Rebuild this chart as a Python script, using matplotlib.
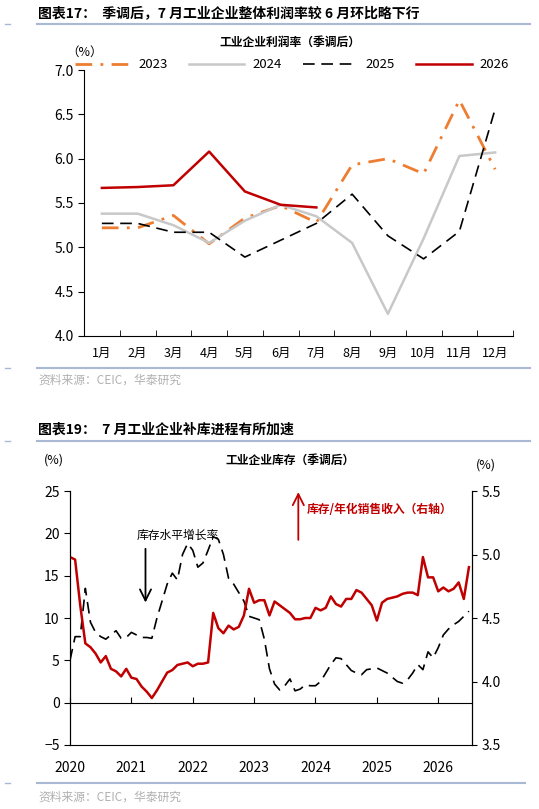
import numpy as np
import matplotlib
matplotlib.use('Agg')
import matplotlib.pyplot as plt

plt.rcParams['font.family'] = ['Noto Sans CJK SC', 'DejaVu Sans']

# ---- 图表17 数据 ----
months = ['1月', '2月', '3月', '4月', '5月', '6月', '7月', '8月', '9月', '10月', '11月', '12月']
p2023 = [5.22, 5.22, 5.36, 5.04, 5.33, 5.47, 5.28, 5.93, 6.00, 5.83, 6.66, 5.88]
p2024 = [5.38, 5.38, 5.25, 5.05, 5.30, 5.48, 5.35, 5.05, 4.25, 5.10, 6.03, 6.07]
p2025 = [5.27, 5.27, 5.17, 5.17, 4.89, 5.08, 5.27, 5.60, 5.13, 4.87, 5.18, 6.56]
p2026 = [5.67, 5.68, 5.70, 6.08, 5.63, 5.48, 5.45]

# ---- 图表19 数据 (2020-01 .. 2026-07, 月度) ----
inv_growth = [
    5.0, 7.8, 7.8, 13.5, 9.5, 8.3, 7.8, 7.5, 8.0, 8.5, 7.6, 7.7,
    8.3, 8.0, 7.7, 7.7, 7.6, 10.0, 12.0, 14.0, 15.3, 14.5, 17.5, 18.8,
    18.0, 16.0, 16.5, 18.0, 19.6, 19.3, 17.5, 14.7, 14.0, 13.0, 12.0, 10.2,
    10.0, 9.8, 7.5, 4.0, 2.2, 1.5, 2.0, 2.8, 1.4, 1.6, 2.1, 2.0,
    2.0, 2.5, 3.5, 4.5, 5.3, 5.2, 4.5, 3.8, 3.5, 3.3, 3.9, 4.0,
    4.1, 3.8, 3.5, 3.0, 2.5, 2.3, 2.7, 3.5, 4.5, 3.9, 6.0, 5.3,
    6.5, 8.0, 8.7, 9.2, 9.6, 10.2, 10.8,
]
inv_ratio = [
    4.98, 4.96, 4.60, 4.30, 4.27, 4.22, 4.15, 4.20, 4.10, 4.08, 4.04, 4.10,
    4.03, 4.02, 3.96, 3.92, 3.87, 3.93, 4.00, 4.07, 4.09, 4.13, 4.14, 4.15,
    4.12, 4.14, 4.14, 4.15, 4.54, 4.42, 4.38, 4.44, 4.41, 4.43, 4.52, 4.73,
    4.62, 4.64, 4.64, 4.52, 4.63, 4.60, 4.57, 4.54, 4.49, 4.49, 4.50, 4.50,
    4.58, 4.56, 4.58, 4.67, 4.61, 4.59, 4.65, 4.65, 4.72, 4.70, 4.65, 4.60,
    4.48, 4.62, 4.65, 4.66, 4.67, 4.69, 4.70, 4.70, 4.68, 4.98, 4.82, 4.82,
    4.71, 4.74, 4.71, 4.73, 4.78, 4.65, 4.90,
]
years = ['2020', '2021', '2022', '2023', '2024', '2025', '2026']

W, H = 539, 809
fig = plt.figure(figsize=(W / 100, H / 100), dpi=100)
sep = '#a9b9d3'

def fx(px):
    return px / W

def fy(py):
    return 1 - py / H

def hline(py, x0=37, x1=530):
    fig.add_artist(plt.Line2D([fx(x0), fx(x1)], [fy(py), fy(py)], color=sep, lw=1.5))
    fig.add_artist(plt.Line2D([fx(5), fx(10)], [fy(py), fy(py)], color=sep, lw=1))

# ---------- 上图 ----------
fig.text(fx(38), fy(13), '图表17：  季调后，7 月工业企业整体利润率较 6 月环比略下行',
         fontsize=10, fontweight='bold', va='center')
hline(24)
ax1 = fig.add_axes([fx(84), fy(336), fx(513 - 84), fy(70) - fy(336)])
x = np.arange(12)
ax1.plot(x, p2023, color='#ed7d31', lw=2, ls=(0, (6, 3, 1, 3)), label='2023')
ax1.plot(x, p2024, color='#c8c8c8', lw=1.8, label='2024')
ax1.plot(x, p2025, color='black', lw=1.2, ls=(0, (7, 4)), label='2025')
ax1.plot(np.arange(len(p2026)), p2026, color='#c00000', lw=1.8, label='2026')
ax1.set_xlim(-0.5, 11.5)
ax1.set_ylim(4.0, 7.0)
ax1.set_yticks(np.arange(4.0, 7.01, 0.5))
ax1.set_yticklabels([f'{v:.1f}' for v in np.arange(4.0, 7.01, 0.5)], fontsize=10)
ax1.set_xticks(x)
ax1.set_xticklabels(months, fontsize=9)
ax1.set_xticks(np.arange(-0.5, 12, 1), minor=True)
ax1.tick_params(axis='x', which='major', length=0, pad=8)
ax1.tick_params(axis='x', which='minor', length=4, direction='in')
ax1.tick_params(axis='y', length=4, direction='out')
for s in ['top', 'right']:
    ax1.spines[s].set_visible(False)
fig.legend(*ax1.get_legend_handles_labels(), loc='center', bbox_to_anchor=(fx(292), fy(65)),
           ncol=4, frameon=False, fontsize=9.5, handlelength=4.2, columnspacing=1.6,
           handletextpad=0.6, borderpad=0)
fig.text(fx(290), fy(42), '工业企业利润率（季调后）', fontsize=8.5, fontweight='bold', ha='center', va='center')
fig.text(fx(85), fy(52), '（%）', fontsize=9, ha='center', va='center')
hline(368)
fig.text(fx(38), fy(380), '资料来源：CEIC，华泰研究', fontsize=8.5, color='#b0b0b0', va='center')

# ---------- 下图 ----------
fig.text(fx(38), fy(430), '图表19：  7 月工业企业补库进程有所加速',
         fontsize=10, fontweight='bold', va='center')
hline(441)
ax2 = fig.add_axes([fx(70), fy(745), fx(472 - 70), fy(491) - fy(745)])
t = np.arange(len(inv_growth)) / 12.0
ax2.plot(t, inv_growth, color='black', lw=1.2, ls=(0, (7, 4)))
ax2.set_xlim(0, (len(inv_growth) - 1) / 12.0 + 0.05)
ax2.set_ylim(-5, 25)
ax2.set_yticks(np.arange(-5, 26, 5))
ax2.tick_params(axis='y', labelsize=10, length=4)
ax2.set_xticks(np.arange(len(years)))
ax2.set_xticklabels(years, fontsize=10)
ax2.spines['top'].set_visible(False)
ax2.spines['bottom'].set_position(('data', 0))
ax2.tick_params(axis='x', length=4, direction='in', pad=42)
ax3 = ax2.twinx()
ax3.plot(t, inv_ratio, color='#c00000', lw=1.8)
ax3.set_ylim(3.5, 5.5)
ax3.set_yticks([3.5, 4.0, 4.5, 5.0, 5.5])
ax3.set_yticklabels(['3.5', '4.0', '4.5', '5.0', '5.5'], fontsize=10)
ax3.spines['top'].set_visible(False)
fig.text(fx(290), fy(460), '工业企业库存（季调后）', fontsize=8.5, fontweight='bold', ha='center', va='center')
fig.text(fx(54), fy(460), '(%)', fontsize=9, ha='center', va='center')
fig.text(fx(486), fy(465), '(%)', fontsize=9, ha='center', va='center')
ax2.annotate('', xy=(1.23, 11.5), xytext=(1.23, 18.5), annotation_clip=False,
             arrowprops=dict(arrowstyle='->', color='black', lw=1.3, mutation_scale=20))
ax2.text(1.75, 19.8, '库存水平增长率', fontsize=8.5, ha='center', va='center')
ax2.annotate('', xy=(3.72, 25.2), xytext=(3.72, 18.9), annotation_clip=False,
             arrowprops=dict(arrowstyle='->', color='#c00000', lw=1.3, mutation_scale=20))
ax2.text(3.85, 22.8, '库存/年化销售收入（右轴）', fontsize=8.5, color='#c00000',
         fontweight='bold', va='center')
hline(783, 37, 525)
fig.text(fx(38), fy(797), '资料来源：CEIC，华泰研究', fontsize=8.5, color='#b0b0b0', va='center')

fig.savefig('out.png', dpi=100)
